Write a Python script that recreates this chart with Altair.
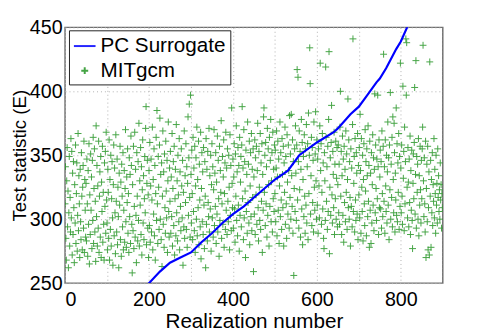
import altair as alt
import pandas as pd

# PC Surrogate curve (sorted realizations)
pc_x = [195, 200, 226, 250, 275, 300, 325, 350, 375, 400, 426, 450, 475, 500, 531,
        558, 600, 640, 650, 680, 700, 718, 742, 750, 765, 789, 800, 815, 820]
pc_y = [248, 250, 259, 266, 270, 274, 282, 289, 297, 304, 310, 317, 324, 331, 338,
        350, 360, 368, 371, 382, 388, 396, 407, 410, 418, 433, 439, 450, 454]

# MITgcm test statistic per realization (estimated from the scatter)
mitgcm_y = [
    312, 341, 285, 268, 330, 356, 294, 322, 262, 305, 349, 279, 317, 290, 363, 301, 353, 272, 336, 288,
    345, 309, 266, 327, 297, 358, 281, 320, 344, 275, 303, 367, 291, 334, 312, 270, 339, 298, 284, 352,
    318, 276, 325, 342, 293, 361, 274, 331, 307, 286,
    328, 283, 347, 312, 271, 338, 296, 359, 265, 319, 288, 351, 307, 333, 277, 346, 299, 364, 281, 324,
    355, 290, 314, 267, 373, 302, 342, 279, 326, 293, 361, 274, 318, 337, 286, 349, 270, 329, 306, 357,
    282, 321, 296, 268, 344, 310, 353, 289, 368, 315,
    297, 276, 339, 321, 285, 362, 268, 331, 292, 350, 279, 316, 345, 301, 264, 327, 358, 287, 340, 305,
    273, 366, 314, 290, 347, 280, 325, 302, 262, 336, 311, 357, 284, 329, 271, 343, 318, 294, 352, 276,
    307, 338, 282, 324, 370, 298, 278, 333, 313, 355,
    289, 320, 274, 348, 302, 335, 281, 365, 342, 296, 258, 327, 291, 357, 277, 310, 368, 286, 339, 303,
    266, 352, 318, 283, 345, 299, 375, 279, 330, 311, 356, 288, 341, 272, 323, 362, 297, 334, 284, 316,
    349, 305, 371, 388, 280, 328, 346, 293, 319, 270,
    338, 295, 360, 282, 326, 347, 290, 315, 372, 276, 331, 304, 355, 287, 342, 268, 320, 364, 299, 385,
    312, 281, 349, 325, 292, 358, 379, 300, 335, 284, 344, 263, 318, 369, 296, 337, 278, 351, 309, 289,
    361, 322, 301, 346, 274, 330, 376, 306, 286, 340,
    314, 353, 289, 333, 302, 367, 279, 324, 345, 295, 357, 272, 316, 339, 287, 374, 305, 330, 283, 350,
    319, 298, 363, 276, 337, 310, 291, 355, 326, 301, 346, 264, 321, 294, 369, 285, 334, 313, 359, 292,
    341, 278, 328, 380, 303, 348, 390, 317, 286, 397,
    335, 297, 354, 320, 284, 364, 306, 340, 291, 357, 274, 326, 348, 300, 372, 287, 331, 309, 361, 280,
    343, 315, 294, 368, 269, 324, 352, 298, 337, 288, 356, 311, 277, 345, 318, 262, 363, 296, 339, 283,
    353, 313, 302, 371, 290, 334, 308, 350, 275, 327,
    359, 301, 341, 286, 323, 370, 295, 336, 310, 352, 281, 329, 304, 365, 290, 346, 316, 271, 357, 299,
    338, 321, 377, 285, 312, 349, 296, 333, 362, 278, 320, 344, 292, 368, 307, 340, 288, 355, 314, 298,
    350, 325, 276, 366, 303, 342, 291, 387, 328, 309,
    347, 293, 333, 359, 308, 282, 351, 318, 373, 299, 337, 287, 356, 311, 342, 275, 364, 303, 329, 349,
    294, 358, 388, 316, 340, 284, 370, 301, 345, 322, 270, 354, 306, 335, 289, 376, 313, 343, 297, 361,
    280, 326, 352, 302, 367, 291, 339, 317, 355, 259,
    333, 304, 362, 288, 348, 319, 357, 296, 338, 375, 309, 283, 353, 325, 299, 367, 292, 344, 314, 359,
    274, 335, 307, 380, 387, 321, 350, 295, 360, 312, 341, 286, 371, 303, 355, 327, 279, 364, 310, 346,
    378, 298, 330, 352, 290, 368, 316, 339, 306, 358,
    320, 354, 298, 340, 369, 287, 333, 361, 307, 347, 281, 326, 376, 302, 352, 315, 292, 363, 335, 309,
    357, 279, 344, 321, 372, 296, 349, 312, 285, 366, 329, 304, 358, 338, 293, 381, 317, 351, 300, 382,
    334, 310, 362, 289, 345, 256, 324, 355, 306, 373,
    336, 299, 358, 417, 315, 411, 345, 293, 369, 323, 353, 286, 339, 378, 308, 360, 280, 331, 349, 302,
    366, 318, 289, 355, 311, 374, 297, 341, 359, 284, 383, 320, 350, 434, 406, 304, 334, 364, 295, 356,
    313, 346, 290, 376, 325, 307, 351, 384, 330, 300,
    362, 311, 347, 289, 355, 326, 301, 373, 422, 338, 359, 296, 321, 367, 308, 344, 285, 277, 352, 330,
    299, 419, 364, 314, 341, 292, 357, 306, 378, 431, 273, 325, 348, 303, 360, 389, 319, 297, 353, 335,
    309, 368, 288, 343, 316, 361, 300, 332, 356, 294,
    327, 358, 305, 343, 296, 372, 400, 318, 353, 288, 334, 365, 303, 347, 282, 357, 313, 339, 298, 369,
    321, 351, 292, 331, 394, 309, 362, 300, 345, 317, 279, 355, 310, 340, 294, 374, 441, 306, 328, 349,
    290, 363, 315, 299, 352, 336, 304, 367, 284, 342,
    319, 356, 301, 382, 338, 289, 363, 325, 306, 350, 283, 331, 359, 312, 295, 370, 322, 345, 287, 355,
    334, 302, 373, 314, 342, 278, 361, 307, 336, 281, 352, 297, 327, 366, 311, 348, 291, 339, 398, 305,
    358, 324, 299, 347, 316, 397, 341, 288, 362, 309,
    333, 354, 308, 345, 293, 369, 320, 302, 357, 429, 314, 341, 289, 362, 326, 306, 350, 297, 337, 376,
    311, 348, 284, 358, 323, 399, 300, 343, 317, 364, 294, 380, 331, 305, 375, 352, 290, 336, 315, 387,
    303, 359, 298, 344, 321, 367, 292, 349, 310, 422,
    340, 305, 358, 318, 296, 404, 332, 353, 291, 372, 312, 345, 441, 397, 438, 325, 301, 356, 329, 294,
    347, 313, 365, 288, 338, 307, 354, 299, 277, 328, 351, 316, 360, 403, 304, 335, 424, 293, 349, 321,
    343, 300, 363, 287, 334, 311, 357, 323, 297, 346,
    316, 355, 372, 436, 330, 302, 348, 312, 290, 361, 270, 324, 343, 298, 357, 276, 309, 337, 272, 423,
    318, 346, 278, 331, 305, 352, 295, 327, 314, 363, 301, 339, 320, 289, 350, 311, 328, 297, 355, 317,
    334, 306, 323, 300, 344, 315, 327, 293, 320, 309,
]

x_ticks = [0, 100, 200, 300, 400, 500, 600, 700, 800, 900]
y_ticks = [250, 300, 350, 400, 450]
series_names = ["PC Surrogate", "MITgcm"]
series_colors = ["#0000ff", "#259525"]
PLUS = "M-0.32,0L0.32,0M0,-0.32L0,0.32"

pc_df = pd.DataFrame({"x": pc_x, "y": pc_y, "series": "PC Surrogate"})
mit_df = pd.DataFrame({"x": list(range(len(mitgcm_y))), "y": mitgcm_y, "series": "MITgcm"})

FONT = "Liberation Sans"

xenc = alt.X("x:Q", scale=alt.Scale(domain=[0, 900], nice=False, zero=False),
             axis=alt.Axis(values=x_ticks, title="Realization number", format="d",
                           labelPadding=7, titlePadding=1))
yenc = alt.Y("y:Q", scale=alt.Scale(domain=[250, 450], nice=False, zero=False),
             axis=alt.Axis(values=y_ticks, title="Test statistic (E)", format="d",
                           labelPadding=3, titlePadding=0))

color = alt.Color("series:N", scale=alt.Scale(domain=series_names, range=series_colors),
                  legend=alt.Legend(title=None, orient="none", legendX=4, legendY=3))
shape = alt.Shape("series:N", scale=alt.Scale(domain=series_names, range=["stroke", PLUS]))

points = alt.Chart(mit_df).mark_point(
    shape=PLUS, filled=False, size=478, strokeWidth=1, opacity=0.85, clip=True
).encode(x=xenc, y=yenc, color=color, shape=shape)

line = alt.Chart(pc_df).mark_line(strokeWidth=2.2, clip=True).encode(
    x=xenc, y=yenc, color=color, order="x:Q"
)

chart = alt.layer(points, line).properties(
    width=384, height=260,
    padding={"left": 58, "top": 17, "right": 48, "bottom": 47},
    autosize=alt.AutoSizeParams(type="none"),
).configure_view(
    stroke="#707070", strokeWidth=1.5
).configure_axis(
    labelFont=FONT, titleFont=FONT, labelFontSize=20,
    labelColor="black", titleColor="black", titleFontWeight="normal",
    grid=True, gridColor="#b0b0b0", gridDash=[1, 3], gridWidth=1,
    domain=False, ticks=False,
).configure_axisX(titleFontSize=21).configure_axisY(titleFontSize=19).configure_legend(
    labelFont=FONT, labelFontSize=21, labelColor="black",
    strokeColor="#222", fillColor="white", padding=4,
    symbolSize=484, symbolStrokeWidth=2, rowPadding=3, labelOffset=4,
    symbolType="stroke",
)

chart.save("out.html", embed_options={"renderer": "svg", "actions": False})
